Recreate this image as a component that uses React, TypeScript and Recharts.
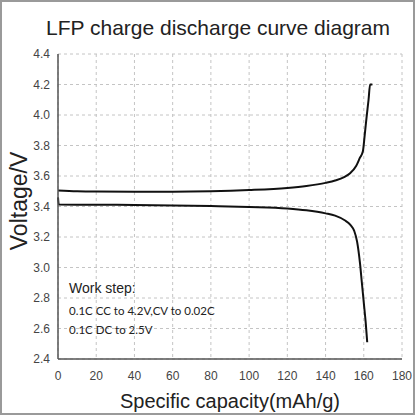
import React from 'react';
import { LineChart, Line, XAxis, YAxis, CartesianGrid } from 'recharts';

const chargeCap = [0, 10, 20, 40, 60, 80, 100, 120, 130, 140, 145, 150, 153, 156, 158, 159.5, 160.5, 161.5, 162.5, 163.3, 164.5];
const chargeVolt = [3.505, 3.5, 3.498, 3.497, 3.497, 3.5, 3.508, 3.522, 3.535, 3.555, 3.57, 3.595, 3.62, 3.665, 3.72, 3.76, 3.87, 3.99, 4.1, 4.2, 4.2];

const dischargeCap = [0, 0.4, 10, 20, 40, 60, 80, 100, 120, 130, 140, 145, 150, 153, 155, 156.5, 158, 159, 160, 161, 161.8];
const dischargeVolt = [3.46, 3.413, 3.412, 3.412, 3.41, 3.407, 3.403, 3.397, 3.387, 3.375, 3.355, 3.34, 3.31, 3.28, 3.24, 3.17, 3.03, 2.9, 2.77, 2.64, 2.51];

const xTicks = [0, 20, 40, 60, 80, 100, 120, 140, 160, 180];
const yTicks = [2.4, 2.6, 2.8, 3.0, 3.2, 3.4, 3.6, 3.8, 4.0, 4.2, 4.4];

const chargeData = chargeCap.map((c, i) => ({ cap: c, v: chargeVolt[i] }));
const dischargeData = dischargeCap.map((c, i) => ({ cap: c, v: dischargeVolt[i] }));

const FONT = '"Liberation Sans", Arial, sans-serif';
const tickStyle = { fontSize: 12, fill: '#444', fontFamily: FONT };

export default function App() {
  return (
    <div style={{ position: 'fixed', left: 0, top: 0, width: 416, height: 416, background: '#fff' }}>
      <LineChart width={416} height={416} margin={{ top: 54, right: 14, left: 0, bottom: 0 }}>
        <CartesianGrid stroke="#c4c4c4" strokeDasharray="3 3" />
        <XAxis
          type="number"
          dataKey="cap"
          domain={[0, 180]}
          ticks={xTicks}
          height={57}
          tickLine={false}
          tickMargin={6}
          tick={tickStyle}
          axisLine={{ stroke: '#555', strokeWidth: 1.5 }}
          allowDuplicatedCategory={false}
        />
        <XAxis xAxisId="top" orientation="top" type="number" domain={[0, 180]} height={0} tick={false} tickLine={false} axisLine={{ stroke: '#555', strokeWidth: 1.5 }} />
        <YAxis
          type="number"
          domain={[2.4, 4.4]}
          ticks={yTicks}
          width={58}
          tickLine={false}
          tick={tickStyle}
          tickFormatter={(v: number) => v.toFixed(1)}
          axisLine={{ stroke: '#555', strokeWidth: 1.5 }}
        />
        <YAxis yAxisId="right" orientation="right" type="number" domain={[2.4, 4.4]} width={0} tick={false} tickLine={false} axisLine={{ stroke: '#555', strokeWidth: 1.5 }} />
        <Line data={chargeData} dataKey="v" type="monotone" stroke="#111" strokeWidth={2} dot={false} isAnimationActive={false} />
        <Line data={dischargeData} dataKey="v" type="monotone" stroke="#111" strokeWidth={2} dot={false} isAnimationActive={false} />
      </LineChart>
      <svg width={416} height={416} style={{ position: 'absolute', left: 0, top: 0, pointerEvents: 'none' }}>
        <rect x={1} y={1} width={413} height={413} fill="none" stroke="#9a9a9a" strokeWidth={2} />
        <text x={218} y={35} textAnchor="middle" fontSize={21} fontFamily={FONT} fill="#222">LFP charge discharge curve diagram</text>
        <text x={27} y={201} textAnchor="middle" fontSize={23} fontFamily={FONT} fill="#222" transform="rotate(-90 27 201)">Voltage/V</text>
        <text x={230} y={408} textAnchor="middle" fontSize={20} fontFamily={FONT} fill="#222">Specific capacity(mAh/g)</text>
        {/* annotation box */}
        <text x={69} y={293} fontSize={14} fontFamily={FONT} fill="#222">Work step:</text>
        <text x={69} y={315} fontSize={11.5} fontFamily="Lato, sans-serif" fill="#222">0.1C CC to 4.2V,CV to 0.02C</text>
        <text x={69} y={334} fontSize={11.5} fontFamily="Lato, sans-serif" fill="#222">0.1C DC to 2.5V</text>
      </svg>
    </div>
  );
}
